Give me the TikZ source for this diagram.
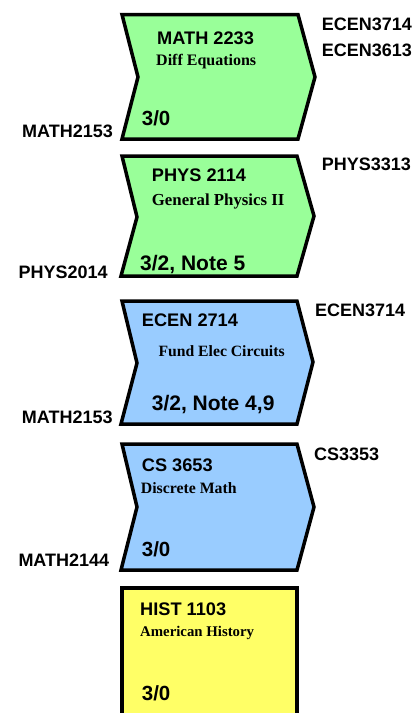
\documentclass[tikz,border=0pt]{standalone}
\usepackage{fontspec}
\setmainfont{Liberation Serif}
\setsansfont{Liberation Sans}
\definecolor{cgreen}{HTML}{99FF99}
\definecolor{cblue}{HTML}{99CCFF}
\definecolor{cyellow}{HTML}{FFFF66}
\begin{document}
\begin{tikzpicture}[x=1pt,y=-1pt,
  box/.style={draw=black,line width=3.5pt,line join=miter},
  lbl/.style={anchor=base west,inner sep=0pt,font=\sffamily\bfseries\fontsize{18}{20}\selectfont},
  ttl/.style={anchor=base west,inner sep=0pt,font=\sffamily\bfseries\fontsize{18.2}{20}\selectfont},
  sub/.style={anchor=base west,inner sep=0pt,font=\rmfamily\bfseries\fontsize{#1}{18}\selectfont},
  cred/.style={anchor=base west,inner sep=0pt,font=\sffamily\bfseries\fontsize{#1}{22}\selectfont}]
\useasboundingbox (0,0) rectangle (413,713);
\clip (0,0) rectangle (413,713);
% boxes
\path[box,fill=cgreen] (122,14.5) coordinate (b1) -- (298,14.5) -- (315,77) -- (298,139) -- (122,139) -- (138,77) -- cycle;
\path[box,fill=cgreen] (122,156) coordinate (b2) -- (297,156) -- (314,216) -- (297,276) -- (121,276) -- (137,217) -- cycle;
\path[box,fill=cblue] (122,301) coordinate (b3) -- (297,301) -- (313,362) -- (297,424) -- (121,424) -- (137,363) -- cycle;
\path[box,fill=cblue] (122,444) coordinate (b4) -- (297,444) -- (314,507) -- (297,570) -- (121,570) -- (137,507) -- cycle;
\path[box,fill=cyellow] (122,588) coordinate (b5) -- (297,588) -- (297,725) -- (122,725) -- cycle;
% box 1
\node[ttl] (t1) at (157,44.3) {MATH 2233};
\node[sub=16] (s1) at (156,65.7) {Diff Equations};
\node[cred=20.5] (c1) at (141.7,125) {3/0};
\node[lbl] (l1) at (22,137.7) {MATH2153};
\node[lbl] (r1a) at (321.7,30.7) {ECEN3714};
\node[lbl] (r1b) at (321.7,56) {ECEN3613};
% box 2
\node[ttl] (t2) at (151.7,181.7) {PHYS 2114};
\node[sub=16.8] (s2) at (151.7,205) {General Physics II};
\node[cred=21] (c2) at (140,270) {3/2, Note 5};
\node[lbl] (l2) at (18.3,278.3) {PHYS2014};
\node[lbl] (r2) at (321.7,170) {PHYS3313};
% box 3
\node[ttl] (t3) at (141.7,326.7) {ECEN 2714};
\node[sub=15.7] (s3) at (158.3,356) {Fund Elec Circuits};
\node[cred=21] (c3) at (151.7,410) {3/2, Note 4,9};
\node[lbl] (l3) at (21.7,423.3) {MATH2153};
\node[lbl] (r3) at (315,316.7) {ECEN3714};
% box 4
\node[ttl] (t4) at (141.7,471.7) {CS 3653};
\node[sub=15.8] (s4) at (140.7,493) {Discrete Math};
\node[cred=20.5] (c4) at (141.7,556.7) {3/0};
\node[lbl] (l4) at (18.3,566.7) {MATH2144};
\node[lbl] (r4) at (314,460.5) {CS3353};
% box 5
\node[ttl] (t5) at (140,615) {HIST 1103};
\node[sub=14.8] (s5) at (140,636.7) {American History};
\node[cred=20.5] (c5) at (141.7,700) {3/0};
\end{tikzpicture}
\end{document}
